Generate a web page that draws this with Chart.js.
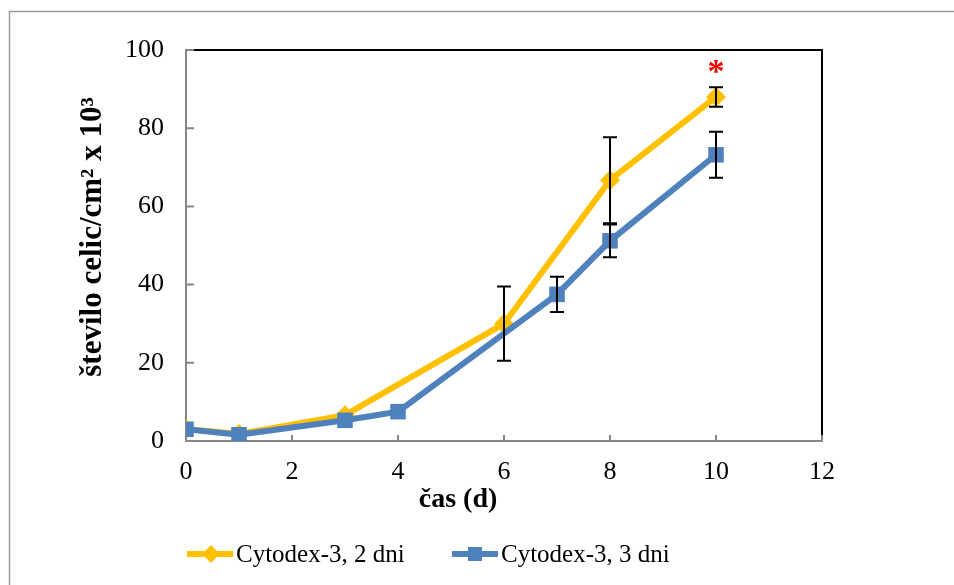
<!DOCTYPE html>
<html>
<head>
<meta charset="utf-8">
<script src="https://cdn.jsdelivr.net/npm/chart.js@4/dist/chart.umd.min.js"></script>
<style>
  html, body { margin: 0; background: #fff; overflow: hidden; }
  #wrap { position: relative; width: 954px; height: 585px; }
  canvas { display: block; }
</style>
</head>
<body>
<div id="wrap"><canvas id="myChart" width="954" height="585"></canvas></div>
<script>
// cas (d) for each series
var days2 = [0, 1, 3, 6, 8, 10];
var days3 = [0, 1, 3, 4, 7, 8, 10];
// stevilo celic/cm2 x 10^3
var cyto2 = [3.1, 1.8, 6.6, 30.0, 66.7, 88.0];
var cyto3 = [3.0, 1.6, 5.3, 7.5, 37.5, 51.2, 73.2];
// standard deviation (null = not shown)
var err2 = [null, null, null, 9.5, 11.0, 2.5];
var err3 = [null, null, null, null, 4.5, 4.2, 5.9];
var seriesNames = ["Cytodex-3, 2 dni", "Cytodex-3, 3 dni"];
var xTicks = [0, 2, 4, 6, 8, 10, 12];
var yTicks = [0, 20, 40, 60, 80, 100];
var starDay = 10;

var YELLOW = "#FFC000";
var BLUE = "#4F81BD";
var AXIS = "#868686";

function pts(xs, ys) {
  return xs.map(function (x, i) { return { x: x, y: ys[i] }; });
}

var extras = {
  id: 'extras',
  beforeDraw: function (chart) {
    var ctx = chart.ctx;
    ctx.save();
    // outer frame (left and top only)
    ctx.strokeStyle = "#9a9a9a";
    ctx.lineWidth = 1.5;
    ctx.beginPath();
    ctx.moveTo(9.5, 585);
    ctx.lineTo(9.5, 11.5);
    ctx.lineTo(960, 11.5);
    ctx.stroke();
    ctx.restore();
  },
  afterDatasetsDraw: function (chart) {
    var ctx = chart.ctx, xs = chart.scales.x, ys = chart.scales.y, a = chart.chartArea;
    ctx.save();
    // top / right frame of plot area
    ctx.strokeStyle = "#000";
    ctx.lineWidth = 2;
    ctx.beginPath();
    ctx.moveTo(a.left, a.top);
    ctx.lineTo(a.right, a.top);
    ctx.lineTo(a.right, a.bottom);
    ctx.stroke();
    // inward tick marks
    ctx.strokeStyle = AXIS;
    ctx.lineWidth = 2;
    ctx.beginPath();
    xTicks.forEach(function (t) {
      var px = xs.getPixelForValue(t);
      ctx.moveTo(px, a.bottom);
      ctx.lineTo(px, a.bottom - 6);
    });
    yTicks.forEach(function (t) {
      var py = ys.getPixelForValue(t);
      ctx.moveTo(a.left, py);
      ctx.lineTo(a.left + 8, py);
    });
    ctx.stroke();
    // error bars
    ctx.strokeStyle = "#000";
    ctx.lineWidth = 2;
    function bars(xv, yv, ev) {
      xv.forEach(function (d, i) {
        if (ev[i] == null) return;
        var px = xs.getPixelForValue(d);
        var hi = ys.getPixelForValue(yv[i] + ev[i]);
        var lo = ys.getPixelForValue(yv[i] - ev[i]);
        ctx.beginPath();
        ctx.moveTo(px, hi); ctx.lineTo(px, lo);
        ctx.moveTo(px - 7, hi); ctx.lineTo(px + 7, hi);
        ctx.moveTo(px - 7, lo); ctx.lineTo(px + 7, lo);
        ctx.stroke();
      });
    }
    bars(days3, cyto3, err3);
    bars(days2, cyto2, err2);
    // significance star
    var si = days2.indexOf(starDay);
    ctx.fillStyle = "#FF0000";
    ctx.font = "bold 34px 'Liberation Serif'";
    ctx.textAlign = "center";
    ctx.textBaseline = "middle";
    ctx.fillText("*", xs.getPixelForValue(starDay), ys.getPixelForValue(cyto2[si] + err2[si]) - 14);
    // axis titles
    ctx.fillStyle = "#000";
    ctx.font = "bold 28px 'Liberation Serif'";
    ctx.fillText("čas (d)", 458, 500);
    ctx.save();
    ctx.translate(93, 237);
    ctx.rotate(-Math.PI / 2);
    ctx.font = "bold 31px 'Liberation Serif'";
    ctx.fillText("število celic/cm² x 10³", 0, 0);
    ctx.restore();
    // legend
    var ly = 554;
    ctx.lineWidth = 6;
    ctx.strokeStyle = YELLOW;
    ctx.beginPath(); ctx.moveTo(187, ly); ctx.lineTo(233, ly); ctx.stroke();
    ctx.fillStyle = YELLOW;
    ctx.beginPath();
    ctx.moveTo(211, ly - 9); ctx.lineTo(220, ly); ctx.lineTo(211, ly + 9); ctx.lineTo(202, ly);
    ctx.closePath(); ctx.fill();
    ctx.strokeStyle = BLUE;
    ctx.beginPath(); ctx.moveTo(452, ly); ctx.lineTo(498, ly); ctx.stroke();
    ctx.fillStyle = BLUE;
    ctx.fillRect(468, ly - 7, 14, 14);
    ctx.fillStyle = "#000";
    ctx.font = "25px 'Liberation Serif'";
    ctx.textAlign = "left";
    ctx.fillText(seriesNames[0], 236, ly + 1);
    ctx.fillText(seriesNames[1], 501, ly + 1);
    ctx.restore();
  }
};

new Chart(document.getElementById("myChart"), {
  type: 'line',
  data: {
    datasets: [{
      label: seriesNames[1],
      data: pts(days3, cyto3),
      borderColor: BLUE,
      backgroundColor: BLUE,
      borderWidth: 6,
      pointStyle: 'rect',
      pointRadius: 11,
      pointHoverRadius: 11,
      pointBorderWidth: 0,
      tension: 0
    }, {
      label: seriesNames[0],
      data: pts(days2, cyto2),
      borderColor: YELLOW,
      backgroundColor: YELLOW,
      borderWidth: 6,
      pointStyle: 'rectRot',
      pointRadius: 10,
      pointHoverRadius: 10,
      pointBorderWidth: 0,
      tension: 0
    }]
  },
  options: {
    responsive: false,
    animation: false,
    layout: { padding: { left: 0, top: 50, right: 132, bottom: 0 } },
    plugins: { legend: { display: false }, tooltip: { enabled: false } },
    scales: {
      x: {
        type: 'linear', min: 0, max: 12,
        afterBuildTicks: function (s) { s.ticks = xTicks.map(function (v) { return { value: v }; }); },
        afterFit: function (s) { s.height = 144; },
        grid: { display: false, drawTicks: false },
        border: { display: true, color: AXIS, width: 2 },
        ticks: { color: "#000", padding: 16, font: { family: "'Liberation Serif'", size: 26 } }
      },
      y: {
        min: 0, max: 100,
        afterBuildTicks: function (s) { s.ticks = yTicks.map(function (v) { return { value: v }; }); },
        afterFit: function (s) { s.width = 186; },
        grid: { display: false, drawTicks: false },
        border: { display: true, color: AXIS, width: 2 },
        ticks: { color: "#000", padding: 22, font: { family: "'Liberation Serif'", size: 26 } }
      }
    }
  },
  plugins: [extras]
});
</script>
</body>
</html>
